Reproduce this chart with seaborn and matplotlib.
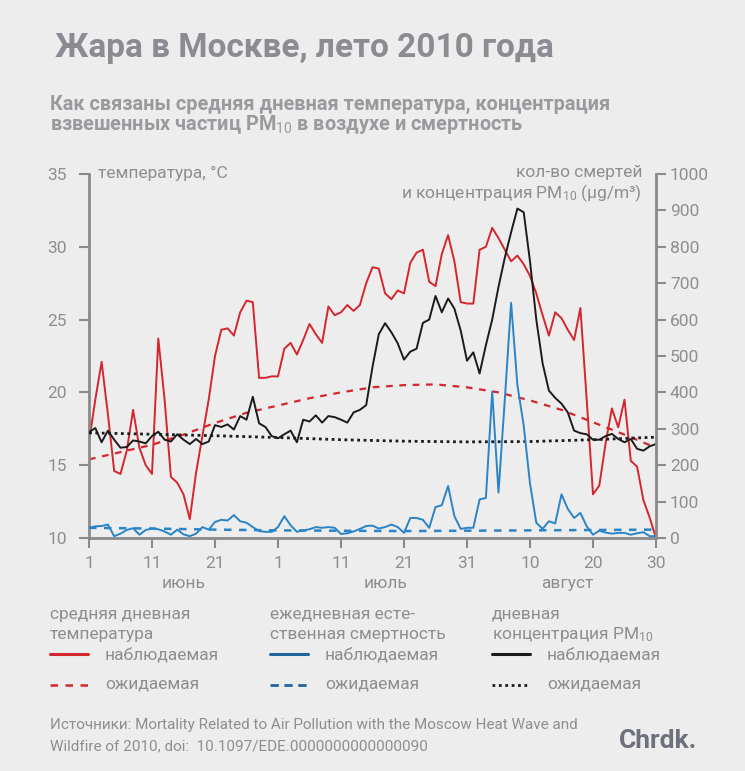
import numpy as np
import pandas as pd
import matplotlib.pyplot as plt
from matplotlib import font_manager
from matplotlib.lines import Line2D
import seaborn as sns

# ---- data (day 0 = 1 June, day 90 = 30 August) ----
days = list(range(91))

temp_obs = [16.6, 19.5, 22.1, 18.5, 14.6, 14.4, 16.0, 18.8, 16.2, 15.0,
            14.4, 23.7, 19.5, 14.2, 13.8, 13.0, 11.3, 14.5, 17.0, 19.5,
            22.5, 24.3, 24.4, 23.9, 25.5, 26.3, 26.2, 21.0, 21.0, 21.1,
            21.1, 23.0, 23.4, 22.6, 23.6, 24.7, 24.0, 23.4, 25.9, 25.3,
            25.5, 26.0, 25.6, 26.0, 27.5, 28.6, 28.5, 26.8, 26.4, 27.0,
            26.8, 28.9, 29.6, 29.8, 27.6, 27.3, 29.5, 30.8, 29.0, 26.2,
            26.1, 26.1, 29.8, 30.0, 31.3, 30.6, 29.8, 29.0, 29.4, 28.8,
            28.0, 26.8, 25.3, 23.9, 25.5, 25.1, 24.3, 23.6, 25.8, 19.5,
            13.0, 13.6, 16.5, 18.9, 17.6, 19.5, 15.3, 14.9, 12.6, 11.4,
            10.0]

pm10_obs = [291, 302, 263, 295, 270, 248, 250, 268, 265, 260,
            280, 292, 270, 265, 285, 270, 258, 272, 258, 265,
            310, 305, 312, 298, 335, 325, 388, 315, 305, 280,
            274, 285, 295, 263, 325, 320, 337, 317, 335, 332,
            325, 317, 345, 352, 365, 470, 560, 590, 565, 535,
            490, 512, 520, 591, 600, 665, 620, 658, 630, 570,
            487, 510, 452, 530, 600, 690, 770, 840, 905, 895,
            760, 600, 480, 405, 385, 369, 345, 295, 288, 285,
            270, 270, 280, 286, 272, 263, 272, 245, 240, 252,
            258]

deaths_obs = [28, 32, 33, 37, 5, 12, 22, 27, 9, 22,
              26, 24, 18, 9, 23, 10, 5, 12, 30, 23,
              44, 50, 48, 63, 46, 42, 30, 19, 17, 17,
              30, 60, 35, 17, 21, 24, 30, 28, 30, 28,
              11, 13, 18, 25, 33, 34, 26, 30, 37, 30,
              14, 55, 55, 50, 28, 85, 90, 143, 60, 25,
              28, 28, 106, 110, 402, 125, 380, 646, 420, 309,
              150, 42, 25, 46, 40, 120, 80, 55, 69, 32,
              9, 20, 15, 12, 14, 14, 9, 13, 16, 5,
              5]

exp_days = [0, 5, 10, 15, 20, 25, 30, 35, 40, 45, 50, 55, 60, 65, 70, 75, 80, 85, 90]
temp_exp = [15.4, 15.9, 16.4, 17.1, 17.9, 18.6, 19.1, 19.6, 20.0, 20.35,
            20.5, 20.55, 20.35, 20.0, 19.45, 18.8, 17.95, 17.1, 16.2]

exp_days10 = [0, 10, 20, 30, 40, 50, 60, 70, 80, 90]
pm10_exp = [289, 285, 281, 276, 270, 266, 264, 265, 270, 277]
deaths_exp = [28, 26, 23, 21, 20, 19, 20, 21, 22, 23]

tick_days = [0, 10, 20, 30, 40, 50, 60, 70, 80, 90]
tick_labels = ['1', '11', '21', '1', '11', '21', '31', '10', '20', '30']
months = ['июнь', 'июль', 'август']
month_pos = [15, 47, 76]

# ---- style ----
sns.set_style("white")
avail = {f.name for f in font_manager.fontManager.ttflist}
font = next((f for f in ['Liberation Sans Narrow', 'Roboto', 'Open Sans', 'DejaVu Sans'] if f in avail))
plt.rcParams['font.family'] = [font, 'DejaVu Sans']
plt.rcParams['mathtext.fontset'] = 'custom'
plt.rcParams['mathtext.rm'] = font
plt.rcParams['mathtext.it'] = font
plt.rcParams['mathtext.bf'] = font + ':bold'

BG = '#ededed'
GREY = '#8e8e8e'
AXC = '#8a8a8a'
RED = '#d3262d'
BLUE = '#2b84c6'
BLACK = '#1b1b1b'

fig = plt.figure(figsize=(7.45, 7.71), dpi=100, facecolor=BG)
ax = fig.add_axes([89 / 745, 1 - 538 / 771, 567 / 745, 364 / 771])
ax.set_facecolor(BG)
ax2 = ax.twinx()

obs = pd.DataFrame({'day': days, 'temp': temp_obs, 'pm10': pm10_obs, 'deaths': deaths_obs})

# expected lines
sns.lineplot(x=exp_days10, y=deaths_exp, ax=ax2, color=BLUE, lw=1.8, linestyle=(0, (3, 3)))
sns.lineplot(x=exp_days10, y=pm10_exp, ax=ax2, color=BLACK, lw=2.0, linestyle=(0, (1, 1.3)))
sns.lineplot(x=exp_days, y=temp_exp, ax=ax, color=RED, lw=1.6, linestyle=(0, (3, 3)))

# observed lines
sns.lineplot(data=obs, x='day', y='temp', ax=ax, color=RED, lw=1.4)
sns.lineplot(data=obs, x='day', y='deaths', ax=ax2, color=BLUE, lw=1.4)
sns.lineplot(data=obs, x='day', y='pm10', ax=ax2, color=BLACK, lw=1.4)

ax.set_xlim(0, 90)
ax.set_ylim(10, 35)
ax2.set_ylim(0, 1000)
ax.set_yticks([10, 15, 20, 25, 30, 35])
ax2.set_yticks(range(0, 1001, 100))
ax.set_xticks(tick_days)
ax.set_xticklabels(tick_labels)
ax.set_xlabel('')
ax.set_ylabel('')
ax2.set_ylabel('')

for a in (ax, ax2):
    a.spines['top'].set_visible(False)
    for s in ('left', 'right', 'bottom'):
        a.spines[s].set_color(AXC)
        a.spines[s].set_linewidth(2)
ax.spines['right'].set_visible(False)
ax2.spines['left'].set_visible(False)
ax2.spines['bottom'].set_visible(False)

ax.tick_params(axis='both', colors=AXC, labelcolor=GREY, labelsize=12.5, length=7, width=1.5,
               left=True, bottom=True, direction='out')
ax.tick_params(axis='y', pad=9)
ax.tick_params(axis='x', pad=6)
ax2.tick_params(axis='y', colors=AXC, labelcolor=GREY, labelsize=12.5, length=7, width=1.5,
                right=True, direction='out', pad=3)

for m, p in zip(months, month_pos):
    ax.text(p, -0.125, m, transform=ax.get_xaxis_transform(), ha='center', va='center',
            fontsize=12.5, color=GREY)

# axis titles
fig.text(98 / 745, 1 - 173 / 771, 'температура, °C', fontsize=12.5, color=GREY, va='center', ha='left')
fig.text(642 / 745, 1 - 173 / 771, 'кол-во смертей', fontsize=12.5, color=GREY, va='center', ha='right')
fig.text(642 / 745, 1 - 193 / 771, 'и концентрация PM$_{10}$ (µg/m³)', fontsize=12.5, color=GREY,
         va='center', ha='right')

# title & subtitle
fig.text(55 / 745, 1 - 48 / 771, 'Жара в Москве, лето 2010 года', fontsize=24, fontweight='bold',
         color='#8b8c92', va='center', ha='left')
fig.text(50 / 745, 1 - 104 / 771, 'Как связаны средняя дневная температура, концентрация',
         fontsize=14.3, fontweight='bold', color='#9a9a9e', va='center', ha='left')
fig.text(50 / 745, 1 - 124 / 771, 'взвешенных частиц PM$_{10}$ в воздухе и смертность',
         fontsize=14.3, fontweight='bold', color='#9a9a9e', va='center', ha='left')

# legend drawn by hand, three columns
cols = [(50, 'средняя дневная', 'температура', RED, (0, (3, 3)), 1.8),
        (270, 'ежедневная есте-', 'ственная смертность', '#22659e', (0, (3, 2)), 2.0),
        (492, 'дневная', 'концентрация PM$_{10}$', BLACK, (0, (1, 1.3)), 2.0)]
for x0, h1, h2, c, ls, lw in cols:
    fig.text(x0 / 745, 1 - 614 / 771, h1, fontsize=12.5, color=GREY, va='center', ha='left')
    fig.text(x0 / 745, 1 - 634 / 771, h2, fontsize=12.5, color=GREY, va='center', ha='left')
    fig.add_artist(Line2D([x0 / 745, (x0 + 38) / 745], [1 - 654 / 771] * 2, color=c, lw=2.2,
                          transform=fig.transFigure))
    fig.add_artist(Line2D([x0 / 745, (x0 + 38) / 745], [1 - 685 / 771] * 2, color=c, lw=lw,
                          linestyle=ls, transform=fig.transFigure))
    fig.text((x0 + 55) / 745, 1 - 655 / 771, 'наблюдаемая', fontsize=12.5, color=GREY, va='center', ha='left')
    fig.text((x0 + 55) / 745, 1 - 684 / 771, 'ожидаемая', fontsize=12.5, color=GREY, va='center', ha='left')

# source & logo
fig.text(50 / 745, 1 - 725 / 771,
         'Источники: Mortality Related to Air Pollution with the Moscow Heat Wave and',
         fontsize=11, color=GREY, va='center', ha='left')
fig.text(50 / 745, 1 - 746 / 771, 'Wildfire of 2010, doi:  10.1097/EDE.0000000000000090',
         fontsize=11, color=GREY, va='center', ha='left')
fig.text(697 / 745, 1 - 741 / 771, 'Chrdk.', fontsize=19, fontweight='bold', color='#6e717b',
         va='center', ha='right')

fig.savefig('out.png', dpi=100, facecolor=BG)
